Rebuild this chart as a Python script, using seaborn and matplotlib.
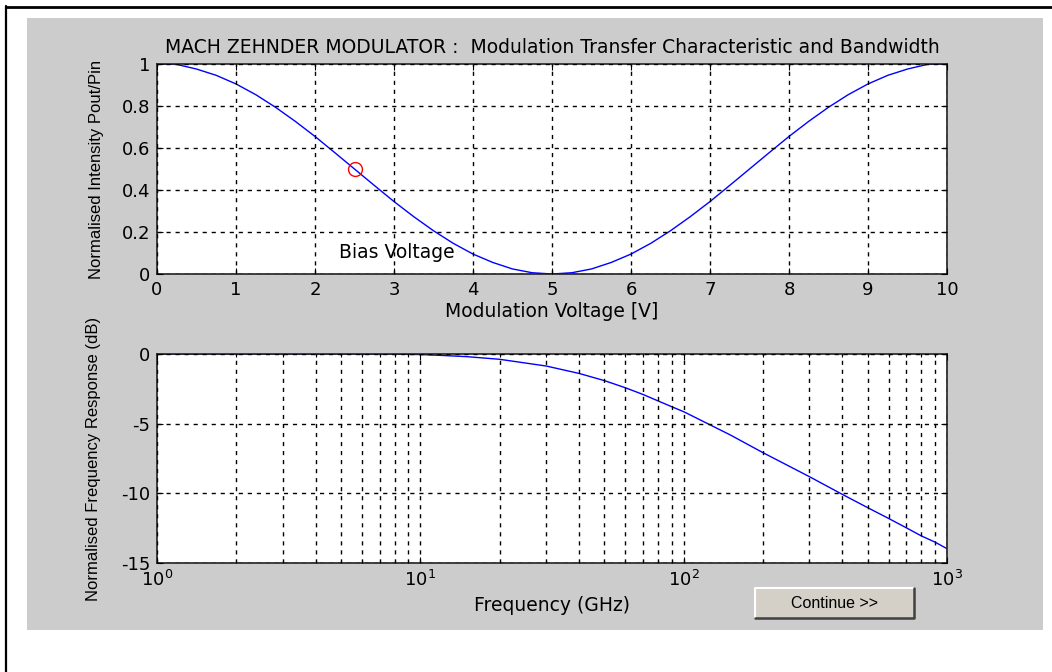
import matplotlib
matplotlib.use("Agg")
import matplotlib.pyplot as plt
from matplotlib.patches import Rectangle
from matplotlib.lines import Line2D
from matplotlib.ticker import LogLocator
import seaborn as sns
import pandas as pd

# Transfer characteristic: modulation voltage [V] vs normalised intensity
voltage = [0.0, 0.25, 0.5, 0.75, 1.0, 1.25, 1.5, 1.75, 2.0, 2.25, 2.5, 2.75,
           3.0, 3.25, 3.5, 3.75, 4.0, 4.25, 4.5, 4.75, 5.0, 5.25, 5.5, 5.75,
           6.0, 6.25, 6.5, 6.75, 7.0, 7.25, 7.5, 7.75, 8.0, 8.25, 8.5, 8.75,
           9.0, 9.25, 9.5, 9.75, 10.0]
intensity = [1.0, 0.998, 0.976, 0.946, 0.905, 0.854, 0.794, 0.727, 0.655,
             0.578, 0.500, 0.422, 0.345, 0.273, 0.206, 0.146, 0.095, 0.055,
             0.024, 0.006, 0.0, 0.006, 0.024, 0.055, 0.095, 0.146, 0.206,
             0.273, 0.345, 0.422, 0.500, 0.578, 0.655, 0.727, 0.794, 0.854,
             0.905, 0.946, 0.976, 0.998, 1.0]

# Bias point
bias_voltage = 2.5
bias_intensity = 0.5

# Bandwidth: frequency [GHz] vs normalised response [dB]
freq_ghz = [1, 2, 5, 8, 10, 12, 15, 20, 30, 40, 50, 60, 70, 80, 90, 100,
            150, 200, 300, 400, 500, 600, 700, 800, 900, 1000]
response_db = [0.0, 0.0, 0.0, -0.01, -0.04, -0.1, -0.19, -0.38, -0.86, -1.39,
               -1.91, -2.42, -2.90, -3.37, -3.78, -4.14, -5.8, -7.08, -8.8,
               -10.07, -11.03, -11.8, -12.47, -13.06, -13.5, -13.97]

v_ticks = [0, 1, 2, 3, 4, 5, 6, 7, 8, 9, 10]
i_ticks = [0, 0.2, 0.4, 0.6, 0.8, 1]
i_tick_labels = ["0", "0.2", "0.4", "0.6", "0.8", "1"]
db_ticks = [-15, -10, -5, 0]

sns.set_style("ticks")
plt.rcParams["font.family"] = ["DejaVu Sans"]
plt.rcParams["font.size"] = 13.5
plt.rcParams["axes.unicode_minus"] = False
plt.rcParams["text.color"] = "black"
plt.rcParams["axes.labelcolor"] = "black"
plt.rcParams["xtick.color"] = "black"
plt.rcParams["ytick.color"] = "black"

FIG_W, FIG_H = 1052, 672
fig = plt.figure(figsize=(FIG_W / 100, FIG_H / 100), dpi=100, facecolor="white")


def fx(px):
    return px / FIG_W


def fy(py):
    return 1 - py / FIG_H


# window frame and grey panel
fig.add_artist(Line2D([fx(6), fx(6)], [0, fy(6)], color="black", lw=1.6,
                      transform=fig.transFigure))
fig.add_artist(Line2D([fx(6), 1], [fy(6.5), fy(6.5)], color="black", lw=2,
                      transform=fig.transFigure))
fig.add_artist(Rectangle((fx(27), fy(630)), fx(1043 - 27), (630 - 18) / FIG_H,
                         transform=fig.transFigure, facecolor="#cccccc",
                         edgecolor="none", zorder=0))

grid_kw = dict(color="black", linestyle=(0, (3, 3.5)), linewidth=1.0)
spine_color = "#222222"
ylabel_font = dict(family=["Liberation Sans", "DejaVu Sans"], size=12)

# ---- upper axes: transfer characteristic ----
ax1 = fig.add_axes([fx(157), fy(274), fx(947 - 157), (274 - 64) / FIG_H])
ax1.set_facecolor("white")
df1 = pd.DataFrame({"V": voltage, "I": intensity})
sns.lineplot(data=df1, x="V", y="I", ax=ax1, color="#0000ff", linewidth=1.0)
ax1.plot([bias_voltage], [bias_intensity], marker="o", markersize=10,
         markerfacecolor="none", markeredgecolor="red", markeredgewidth=1.0,
         linestyle="none")
ax1.text(2.3, 0.1, "Bias Voltage", ha="left", va="center", fontsize=13.5)
ax1.set_xlim(0, 10)
ax1.set_ylim(0, 1)
ax1.set_xticks(v_ticks)
ax1.set_yticks(i_ticks)
ax1.set_yticklabels(i_tick_labels)
ax1.grid(True, **grid_kw)
ax1.set_xlabel("Modulation Voltage [V]", labelpad=2, fontsize=13.5)
ax1.set_ylabel("Normalised Intensity Pout/Pin", fontdict=ylabel_font)
ax1.yaxis.set_label_coords(fx(104 - 157) / fx(947 - 157), 0.5)
ax1.set_title("MACH ZEHNDER MODULATOR :  Modulation Transfer Characteristic and Bandwidth",
              fontsize=13.5, pad=8)

# ---- lower axes: frequency response ----
ax2 = fig.add_axes([fx(157), fy(563), fx(947 - 157), (563 - 354) / FIG_H])
ax2.set_facecolor("white")
df2 = pd.DataFrame({"f": freq_ghz, "dB": response_db})
sns.lineplot(data=df2, x="f", y="dB", ax=ax2, color="#0000ff", linewidth=1.0)
ax2.set_xscale("log")
ax2.set_xlim(1, 1000)
ax2.set_ylim(-15, 0)
ax2.set_yticks(db_ticks)
ax2.xaxis.set_major_locator(LogLocator(base=10, numticks=10))
ax2.xaxis.set_minor_locator(LogLocator(base=10, subs=range(2, 10), numticks=20))
ax2.grid(True, which="both", axis="x", **grid_kw)
ax2.grid(True, which="major", axis="y", **grid_kw)
ax2.set_xlabel("Frequency (GHz)", labelpad=4, fontsize=13.5)
ax2.set_ylabel("Normalised Frequency Response (dB)", fontdict=ylabel_font)
ax2.yaxis.set_label_coords(fx(101 - 157) / fx(947 - 157), 0.5)

for ax in (ax1, ax2):
    for s in ax.spines.values():
        s.set_visible(True)
        s.set_color(spine_color)
        s.set_linewidth(1.2)
    ax.tick_params(which="both", direction="in", length=4, width=0.8,
                   colors="black", labelsize=13, pad=5,
                   top=True, right=True)
    ax.tick_params(which="minor", length=2)
    ax.set_axisbelow(False)

# "Continue >>" push button
bx0, by0, bx1, by1 = 755, 588, 914, 618
fig.add_artist(Rectangle((fx(bx0), fy(by1)), fx(bx1 - bx0), (by1 - by0) / FIG_H,
                         transform=fig.transFigure, facecolor="#d4d0c8",
                         edgecolor="none", zorder=3))
fig.add_artist(Line2D([fx(bx0), fx(bx0), fx(bx1)], [fy(by1), fy(by0), fy(by0)],
                      color="white", lw=1.5, transform=fig.transFigure, zorder=4))
fig.add_artist(Line2D([fx(bx0), fx(bx1), fx(bx1)], [fy(by1), fy(by1), fy(by0)],
                      color="#404040", lw=1.8, transform=fig.transFigure, zorder=4))
fig.text(fx((bx0 + bx1) / 2), fy((by0 + by1) / 2), "Continue >>",
         ha="center", va="center", fontsize=11.5,
         family=["Liberation Sans", "DejaVu Sans"], zorder=5)

fig.savefig("out.png", dpi=100, facecolor="white")
